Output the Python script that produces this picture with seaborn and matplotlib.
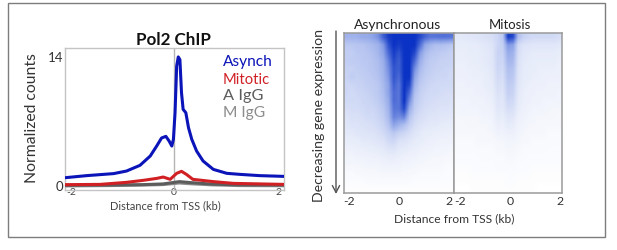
import numpy as np
import matplotlib
matplotlib.use("Agg")
import matplotlib.pyplot as plt
from matplotlib.colors import LinearSegmentedColormap
from matplotlib.patches import Rectangle, FancyArrowPatch
import seaborn as sns

sns.set_theme(style="white")
plt.rcParams['font.family'] = ['Lato', 'DejaVu Sans']

W, H = 617, 251

asynch_x = [-2.01,-1.62,-1.12,-0.88,-0.63,-0.44,-0.32,-0.23,-0.15,-0.09,-0.04,-0.01,0.02,0.05,0.08,0.11,0.14,0.17,0.22,0.27,0.33,0.42,0.54,0.73,0.98,1.22,1.59,2.04]
asynch_y = [0.78,1.0,1.22,1.5,2.12,3.13,4.22,5.09,5.27,4.76,4.22,4.95,7.84,12.9,13.9,13.6,10.0,8.2,7.84,6.2,4.95,3.67,2.59,1.68,1.25,1.14,1.0,0.92]
mitotic_x = [-2.01,-1.37,-0.88,-0.57,-0.32,-0.2,-0.07,0.05,0.14,0.23,0.35,0.73,1.1,2.04]
mitotic_y = [0.02,0.05,0.27,0.49,0.7,0.85,0.6,1.25,1.47,1.14,0.6,0.35,0.16,0.05]
aigg_x = [-2.01,-1.2,-0.6,-0.2,0.1,0.3,0.7,1.2,2.04]
aigg_y = [-0.05,-0.02,0.02,0.1,0.35,0.25,0.08,0.0,-0.02]
migg_x = [-2.01,-1.2,-0.6,-0.2,0.1,0.3,0.7,1.2,2.04]
migg_y = [-0.12,-0.08,-0.03,0.03,0.2,0.12,0.0,-0.08,-0.1]

async_heat = [
 [.42,.42,.42,.46,.46,.50,.58,.80,.95,1.0,1.0,1.0,1.0,1.0,.90,.78,.70,.70,.72,.72,.70],
 [.30,.30,.32,.32,.35,.38,.42,.55,.85,1.0,.95,1.0,1.0,1.0,.75,.48,.40,.35,.35,.33,.30],
 [.27,.27,.30,.30,.32,.35,.40,.50,.75,.95,.85,1.0,1.0,.90,.55,.38,.32,.30,.28,.27,.25],
 [.27,.28,.28,.30,.30,.33,.36,.44,.65,.90,.80,1.0,1.0,.75,.45,.33,.28,.27,.25,.25,.24],
 [.25,.25,.27,.28,.30,.32,.35,.42,.60,.85,.80,1.0,1.0,.60,.38,.30,.27,.25,.24,.23,.22],
 [.24,.28,.25,.27,.28,.30,.33,.40,.55,.85,.75,1.0,1.0,.50,.33,.27,.25,.23,.22,.22,.20],
 [.22,.22,.24,.25,.27,.28,.30,.38,.50,.80,.70,1.0,.90,.42,.29,.25,.22,.21,.20,.20,.20],
 [.22,.20,.22,.23,.25,.27,.30,.36,.50,.75,.70,1.0,.75,.35,.26,.22,.20,.20,.19,.18,.18],
 [.20,.20,.20,.22,.23,.25,.28,.34,.45,.75,.70,1.0,.60,.30,.24,.20,.19,.18,.17,.17,.16],
 [.18,.19,.19,.20,.22,.22,.25,.30,.42,.70,.70,.90,.45,.27,.21,.18,.17,.16,.15,.15,.14],
 [.15,.17,.17,.18,.20,.20,.23,.27,.38,.65,.60,.65,.33,.22,.18,.16,.14,.14,.13,.13,.12],
 [.14,.15,.15,.16,.17,.18,.20,.24,.32,.50,.42,.35,.25,.18,.15,.13,.12,.12,.11,.10,.10],
 [.12,.12,.14,.14,.15,.15,.17,.20,.25,.30,.25,.22,.18,.14,.12,.10,.10,.09,.09,.09,.08],
 [.10,.10,.10,.12,.12,.13,.14,.15,.20,.22,.16,.15,.13,.11,.10,.09,.08,.08,.07,.07,.07],
 [.08,.08,.09,.09,.10,.10,.11,.12,.14,.15,.12,.11,.10,.09,.08,.07,.07,.06,.06,.06,.05],
 [.06,.06,.07,.07,.07,.08,.08,.09,.10,.10,.09,.08,.07,.07,.06,.06,.05,.05,.05,.04,.04],
 [.05,.05,.05,.05,.06,.06,.06,.07,.07,.07,.07,.06,.06,.05,.05,.04,.04,.04,.04,.03,.03],
 [.03,.03,.04,.04,.04,.04,.04,.05,.05,.05,.05,.04,.04,.04,.03,.03,.03,.03,.03,.02,.02],
 [.02,.02,.02,.02,.03,.03,.03,.03,.03,.03,.03,.03,.03,.02,.02,.02,.02,.02,.02,.02,.02],
 [.01,.01,.01,.01,.01,.01,.01,.01,.01,.01,.01,.01,.01,.01,.01,.01,.01,.01,.01,.01,.01],
]
mitosis_heat = [
 [.12,.12,.13,.13,.14,.15,.16,.18,.22,.30,.95,.90,.35,.25,.22,.20,.20,.20,.20,.20,.18],
 [.10,.10,.10,.11,.11,.12,.13,.15,.22,.26,.55,.50,.20,.15,.14,.13,.13,.13,.13,.13,.12],
 [.09,.09,.10,.10,.10,.11,.12,.14,.24,.24,.45,.42,.18,.13,.12,.11,.11,.11,.11,.11,.10],
 [.09,.09,.09,.10,.10,.11,.12,.14,.23,.22,.40,.38,.16,.12,.11,.10,.10,.10,.10,.10,.09],
 [.08,.08,.09,.09,.09,.10,.11,.13,.22,.20,.35,.33,.15,.11,.10,.10,.09,.09,.09,.09,.08],
 [.08,.08,.08,.09,.09,.09,.10,.12,.20,.18,.32,.30,.14,.11,.10,.09,.09,.08,.08,.08,.08],
 [.07,.07,.08,.08,.08,.09,.10,.11,.18,.16,.28,.26,.13,.10,.09,.08,.08,.08,.07,.07,.07],
 [.07,.07,.07,.07,.08,.08,.09,.10,.16,.14,.26,.24,.12,.09,.08,.08,.07,.07,.07,.07,.06],
 [.06,.06,.06,.07,.07,.07,.08,.09,.14,.13,.22,.20,.11,.09,.08,.07,.07,.06,.06,.06,.06],
 [.05,.06,.06,.06,.06,.07,.07,.08,.13,.12,.18,.17,.10,.08,.07,.06,.06,.06,.05,.05,.05],
 [.05,.05,.05,.05,.05,.06,.06,.07,.11,.10,.14,.13,.08,.07,.06,.05,.05,.05,.05,.05,.04],
 [.04,.04,.05,.05,.05,.05,.05,.06,.09,.08,.11,.10,.07,.06,.05,.05,.04,.04,.04,.04,.04],
 [.04,.04,.04,.04,.04,.04,.05,.05,.07,.07,.08,.08,.06,.05,.04,.04,.04,.04,.03,.03,.03],
 [.03,.03,.03,.03,.04,.04,.04,.04,.05,.05,.06,.06,.05,.04,.04,.03,.03,.03,.03,.03,.03],
 [.03,.03,.03,.03,.03,.03,.03,.03,.04,.04,.05,.05,.04,.03,.03,.03,.03,.03,.02,.02,.02],
 [.02,.02,.02,.02,.02,.03,.03,.03,.03,.03,.04,.04,.03,.03,.02,.02,.02,.02,.02,.02,.02],
 [.02,.02,.02,.02,.02,.02,.02,.02,.03,.03,.03,.03,.02,.02,.02,.02,.02,.02,.02,.02,.02],
 [.01,.01,.01,.02,.02,.02,.02,.02,.02,.02,.02,.02,.02,.02,.02,.01,.01,.01,.01,.01,.01],
 [.01,.01,.01,.01,.01,.01,.01,.01,.01,.01,.02,.02,.01,.01,.01,.01,.01,.01,.01,.01,.01],
 [.00,.00,.00,.01,.01,.01,.01,.01,.01,.01,.01,.01,.01,.01,.01,.01,.00,.00,.00,.00,.00],
]
series = [("M IgG", migg_x, migg_y, "#8c8c8c"), ("A IgG", aigg_x, aigg_y, "#5c5c5c"),
          ("Mitotic", mitotic_x, mitotic_y, "#d02024"), ("Asynch", asynch_x, asynch_y, "#0a14b8")]
legend_order = ["Asynch", "Mitotic", "A IgG", "M IgG"]
tick_kb = [-2, 0, 2]

fig = plt.figure(figsize=(W/100, H/100), dpi=100, facecolor="white")
renderer = fig.canvas.get_renderer()

def box(x0, y0, x1, y1):
    return [x0/W, 1-y1/H, (x1-x0)/W, (y1-y0)/H]

def ftext(x, y, s, length, size=10, **kw):
    """Place a text and scale its font so that its long side spans `length` pixels."""
    kw.setdefault("ha", "center"); kw.setdefault("va", "center")
    t = fig.text(x/W, 1-y/H, s, fontsize=size, **kw)
    bb = t.get_window_extent(renderer)
    t.set_fontsize(size*length/max(bb.width, bb.height))
    return t

fig.add_artist(Rectangle((8/W, 1-238/H), 597/W, 234/H, transform=fig.transFigure,
                         fill=False, ec="#7d7d7d", lw=1.0))

ax = fig.add_axes(box(65, 49, 284, 191))
ax.axvline(0, color="#b4b4b4", lw=1.0, zorder=1)
for name, xs, ys, c in series:
    sns.lineplot(x=xs, y=ys, color=c, lw=2.2, ax=ax, errorbar=None, zorder=3)
ax.set_xlim(-2.02, 2.04)
ax.set_ylim(-0.56, 14.87)
ax.set_yticks([0, 14]); ax.set_yticklabels(["0", "14"], fontsize=9.5, color="#333333")
ax.set_xticks(tick_kb); ax.set_xticklabels([str(t) for t in tick_kb], fontsize=7.5, color="#444444")
lab = ax.get_xticklabels(); lab[0].set_ha("left"); lab[2].set_ha("right")
ax.tick_params(length=0, pad=1)
ax.tick_params(axis="x", pad=-2)
for s in ax.spines.values():
    s.set_color("#c4c4c4"); s.set_linewidth(1.0)
ftext(173, 40, "Pol2 ChIP", 75, fontweight="bold", color="#111111")
ftext(165, 205.5, "Distance from TSS (kb)", 110, color="#444444")
ftext(32, 118, "Normalized counts", 130, rotation=90, color="#333333")
leg_colors = {n: c for n, _, _, c in series}
for name, y, L in zip(legend_order, [62, 80, 96, 113], [50, 47, 40, 42]):
    ftext(223, y, name, L, ha="left", color=leg_colors[name])

cmap = LinearSegmentedColormap.from_list("chip", ["#ffffff", "#8ea4e8", "#0a32c4"])
for bx, heat, xl, title, tx, L in [((344, 34, 454, 194), async_heat, (-2.2, 2.2), "Asynchronous", 398, 87),
                                   ((454, 34, 562, 194), mitosis_heat, (-2.24, 2.08), "Mitosis", 510, 42)]:
    a = fig.add_axes(box(*bx))
    a.imshow(np.array(heat), cmap=cmap, vmin=0, vmax=1, aspect="auto", interpolation="bilinear",
             extent=[xl[0], xl[1], 1, 0])
    a.set_yticks([])
    a.set_xticks(tick_kb); a.set_xticklabels([str(t) for t in tick_kb], fontsize=8.8, color="#333333")
    a.tick_params(length=0, pad=1.5)
    for s in a.spines.values():
        s.set_color("#9a9a9a"); s.set_linewidth(1.1)
    ftext(tx, 25, title, L, color="#222222")

ftext(454, 219, "Distance from TSS (kb)", 120, color="#333333")
ftext(319, 116, "Decreasing gene expression", 173, rotation=90, color="#333333")
fig.add_artist(FancyArrowPatch((336/W, 1-32/H), (336/W, 1-195/H), transform=fig.transFigure,
               arrowstyle="->,head_width=2.6,head_length=5", color="#555555", lw=1.0, shrinkA=0, shrinkB=0))

fig.savefig("out.png", dpi=100, facecolor="white")
